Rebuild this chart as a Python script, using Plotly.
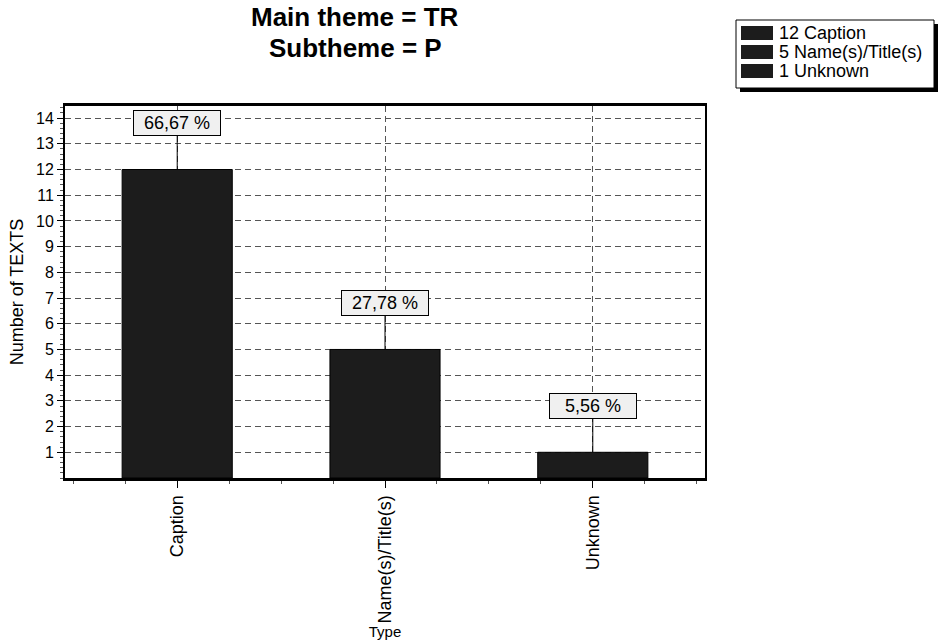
import plotly.graph_objects as go

categories = ["Caption", "Name(s)/Title(s)", "Unknown"]
counts = [12, 5, 1]
title_lines = ["Main theme = TR", "Subtheme = P"]
y_title = "Number of TEXTS"
x_title = "Type"

FONT = "Liberation Sans, Arial, sans-serif"
total = sum(counts)
xpos = list(range(len(categories)))
BAR_COLOR = "#1c1c1c"

fig = go.Figure()
for i, (cat, v) in enumerate(zip(categories, counts)):
    fig.add_trace(go.Bar(
        x=[xpos[i]], y=[v], name=f"{v} {cat}", width=0.53,
        marker=dict(color=BAR_COLOR, line=dict(color="#000000", width=1)),
        showlegend=False,
    ))

L, R, T, B = 65, 233, 106, 162
W, H = 938, 640
pw, ph = W - L - R, H - T - B

def px2x(p):
    return (p - L) / pw

def py2y(p):
    return (H - B - p) / ph

annotations = []
# bar value labels
for i, v in enumerate(counts):
    pct = f"{v / total * 100:.2f}".replace(".", ",") + " %"
    annotations.append(dict(
        x=xpos[i], y=v, ax=xpos[i], ay=v + 1.8, xref="x", yref="y",
        axref="x", ayref="y", text=pct, showarrow=True, arrowhead=0,
        arrowwidth=1, arrowcolor="#000000", bgcolor="#f0f0f0",
        bordercolor="#000000", borderwidth=1, borderpad=1,
        width=84, height=22, align="center", valign="middle",
        font=dict(family=FONT, size=18, color="#000000"),
    ))

# title lines
for j, (line, yc) in enumerate(zip(title_lines, [17, 48])):
    annotations.append(dict(
        x=px2x(355), y=py2y(yc), xref="paper", yref="paper",
        xanchor="center", yanchor="middle", showarrow=False,
        text=f"<b>{line}</b>",
        font=dict(family=FONT, size=26, color="#000000"),
    ))

# legend (box with drop shadow)
shapes = [
    dict(type="rect", xref="paper", yref="paper", layer="above",
         x0=px2x(740), x1=px2x(938), y0=py2y(92), y1=py2y(24),
         fillcolor="#000000", line=dict(width=0)),
    dict(type="rect", xref="paper", yref="paper", layer="above",
         x0=px2x(736), x1=px2x(934), y0=py2y(88), y1=py2y(20),
         fillcolor="#ffffff", line=dict(color="#000000", width=1)),
]
row_y = [33, 52, 71]
for (cat, v), yc in zip(zip(categories, counts), row_y):
    shapes.append(dict(
        type="rect", xref="paper", yref="paper", layer="above",
        x0=px2x(741), x1=px2x(773), y0=py2y(yc + 7), y1=py2y(yc - 7),
        fillcolor=BAR_COLOR, line=dict(width=0)))
    annotations.append(dict(
        x=px2x(777), y=py2y(yc), xref="paper", yref="paper",
        xanchor="left", yanchor="middle", showarrow=False,
        text=f"{v} {cat}",
        font=dict(family=FONT, size=18, color="#000000"),
    ))

fig.update_layout(
    width=W, height=H,
    margin=dict(l=L, r=R, t=T, b=B, pad=0),
    paper_bgcolor="white", plot_bgcolor="white",
    barmode="overlay", showlegend=False,
    font=dict(family=FONT, size=16, color="#000000"),
    annotations=annotations,
    shapes=shapes,
)

DASH = "6px,4px"
fig.update_xaxes(
    range=[-0.54, 2.54], tickmode="array", tickvals=xpos, ticktext=categories,
    tickangle=-90, ticks="outside", ticklen=7, tickwidth=1, tickcolor="#000000",
    showline=True, linecolor="#000000", linewidth=3, mirror=True,
    showgrid=True, gridcolor="#555555", griddash=DASH, gridwidth=1,
    zeroline=False, automargin=False,
    minor=dict(dtick=0.25, tick0=0, ticks="outside", ticklen=3,
               tickcolor="#555555", showgrid=False),
    title=dict(text=x_title, standoff=0, font=dict(family=FONT, size=15)),
    tickfont=dict(family=FONT, size=18),
)
fig.update_yaxes(
    range=[0, 14.47], tickmode="array", tickvals=list(range(1, 15)),
    ticks="outside", ticklen=6, tickwidth=1, tickcolor="#000000",
    showline=True, linecolor="#000000", linewidth=2, mirror=True,
    showgrid=True, gridcolor="#555555", griddash=DASH, gridwidth=1,
    zeroline=False, automargin=False,
    minor=dict(dtick=0.2, tick0=0, tickmode="linear", ticks="outside", ticklen=3,
               tickcolor="#555555", showgrid=False),
    title=dict(text=y_title, standoff=8, font=dict(family=FONT, size=18)),
    tickfont=dict(family=FONT, size=16),
)

fig.write_html("out.html", config={"displayModeBar": False},
               post_script="document.body.style.margin='0px';")
